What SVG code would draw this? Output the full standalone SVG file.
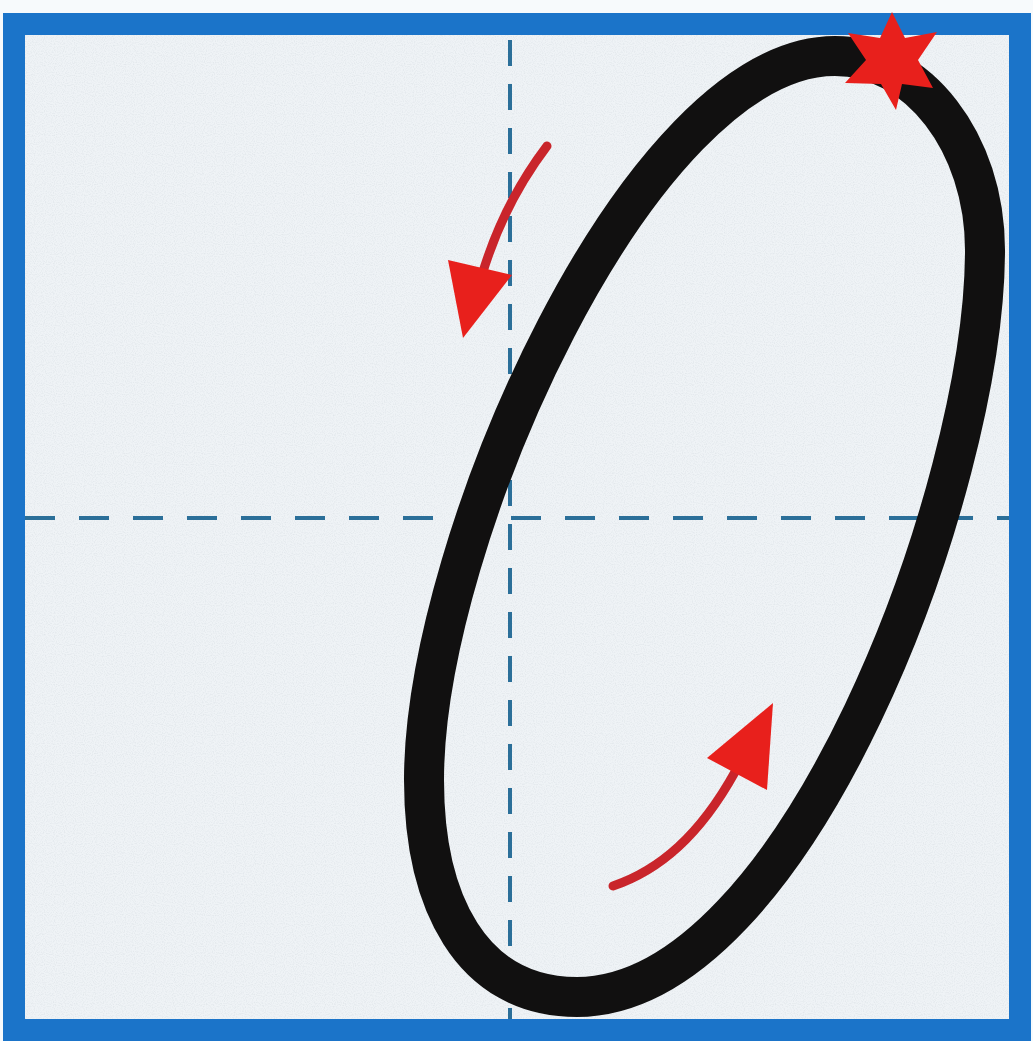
<svg xmlns="http://www.w3.org/2000/svg" width="1033" height="1041" viewBox="0 0 1033 1041">
<defs>
<style>
.guide{stroke:#2b6f99;stroke-width:4;fill:none}
.shaft{fill:none;stroke:#c9252b;stroke-width:9;stroke-linecap:round}
.head{fill:#e8201c}
</style>
<filter id="grain" x="0" y="0" width="100%" height="100%">
<feTurbulence type="fractalNoise" baseFrequency="0.9" numOctaves="1" seed="3" result="n"/>
<feColorMatrix in="n" type="matrix" values="0 0 0 0 0.55  0 0 0 0 0.6  0 0 0 0 0.65  0 0 0 -2.2 1.25"/>
<feComposite in2="SourceGraphic" operator="in"/>
</filter>
</defs>
<rect width="1033" height="1041" fill="#f7fafc"/>
<g id="paper">
<rect x="14" y="24" width="1006" height="1006" fill="#eff3f6" stroke="#1b74c9" stroke-width="22"/>
<rect x="25" y="35" width="984" height="984" fill="#ffffff" filter="url(#grain)" opacity="0.35"/>
</g>
<g id="guides">
<line class="guide" x1="510" y1="40" x2="510" y2="1019" stroke-dasharray="26 18"/>
<line class="guide" x1="25" y1="518" x2="1009" y2="518" stroke-dasharray="30 24"/>
</g>
<g id="oval">
<path d="M835,56 C918,56 985,143 985,250 C985,490 795,997 577,997 C470,997 424,900 424,780 C424,540 640,56 835,56 Z" fill="none" stroke="#111010" stroke-width="40"/>
</g>
<g id="start-star">
<polygon class="head" points="892,12 905,38 937,32 918,60 933,88 902,84 896,110 881,84 845,83 866,60 848,33 880,38"/>
</g>
<g id="connectors">
<g id="arrow-down">
<path class="shaft" d="M547,146 C525,175 500,215 482,275"/>
<polygon class="head" points="448,260 512,275 463,338"/>
</g>
<g id="arrow-up">
<path class="shaft" d="M613,886 C660,870 700,835 735,772"/>
<polygon class="head" points="707,758 773,703 767,790"/>
</g>
</g>
</svg>
